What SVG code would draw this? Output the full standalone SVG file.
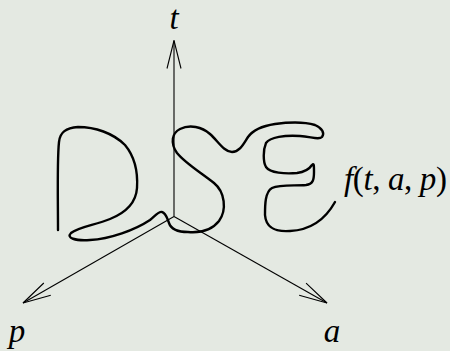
<svg xmlns="http://www.w3.org/2000/svg" width="450" height="351" viewBox="0 0 450 351">
  <defs>
    <style>
      .axis { stroke: #000; stroke-width: 1.1; fill: none; }
      .curve { stroke: #000; stroke-width: 2.4; fill: none; stroke-linecap: round; stroke-linejoin: round; }
      .lbl { font-family: "Liberation Serif", "Times New Roman", serif; font-size: 33px; fill: #000; }
      .it { font-style: italic; }
    </style>
    <marker id="vee" markerUnits="userSpaceOnUse" markerWidth="40" markerHeight="40" viewBox="-32 -12 40 24" refX="0" refY="0" orient="auto">
      <path d="M-28,-7 L0,0 L-28,7" fill="none" stroke="#000" stroke-width="1.1"/>
    </marker>
  </defs>
  <rect width="450" height="351" fill="#e4e9e2"/>
  <g id="connectors">
    <line class="axis" x1="174" y1="216.5" x2="174" y2="40.5" marker-end="url(#vee)"/>
    <line class="axis" x1="174" y1="216.5" x2="23" y2="303" marker-end="url(#vee)"/>
    <line class="axis" x1="174" y1="216.5" x2="327" y2="303" marker-end="url(#vee)"/>
  </g>
  <g id="dse">
    <path class="curve" d="M58,230 C58,200 57,160 59,142 C60,132 66,128 78,127 C95,127 113,133 125,145 C135,157 138,172 137,188 C136,203 125,213 110,219 C95,225 78,227 71,233 C66,238 75,241 90,240 C110,239 135,230 150,220 C155,216 159,211 162,212 C166,213 167,218 169,223 C171,229 176,232 188,232 C200,233 212,230 219,221 C227,210 225,192 214,183 C200,172 185,163 177,153 C170,143 172,133 180,129 C190,124 202,127 210,134 C218,141 224,152 232,152 C240,152 244,143 248,137 C253,130 262,126 275,124 C290,122 305,122 315,125 C322,128 325,133 322,137 C319,140 312,137 300,136 C285,135 270,137 266,143 C263,150 263,162 266,167 C270,173 285,174 297,173 C305,172 310,168 312,165 C314,163 314,165 314,172 C314,180 313,184 306,185 C295,186 280,184 272,188 C265,192 265,205 265,215 C266,228 275,232 290,231 C310,230 325,220 335,202"/>
  </g>
  <g id="label-t"><text class="lbl it" x="174" y="29" text-anchor="middle">t</text></g>
  <g id="label-p"><text class="lbl it" x="17" y="342" text-anchor="middle">p</text></g>
  <g id="label-a"><text class="lbl it" x="332" y="342" text-anchor="middle">a</text></g>
  <g id="label-f">
    <text class="lbl" x="344" y="190" textLength="103" lengthAdjust="spacing"><tspan class="it">f</tspan>(<tspan class="it">t</tspan>, <tspan class="it">a</tspan>, <tspan class="it">p</tspan>)</text>
  </g>
</svg>
